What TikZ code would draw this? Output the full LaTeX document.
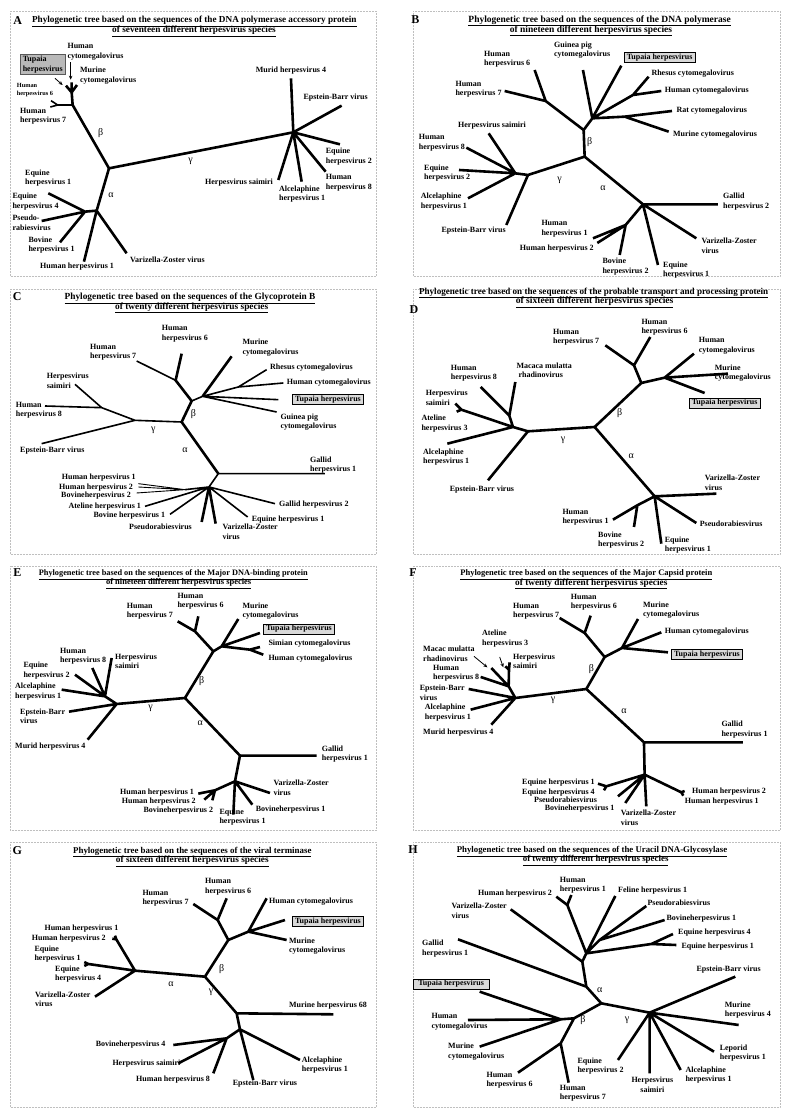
\documentclass[tikz,border=0pt]{standalone}
\usepackage{fontspec}
\setmainfont{Liberation Serif}
\usetikzlibrary{arrows.meta}
\tikzset{
  >={Stealth[length=4pt,width=3.5pt]},
  br/.style     ={line width=2.6pt},
  thinbr/.style ={line width=1.6pt},
  lbl/.style    ={font=\fontsize{8}{9.5}\selectfont\bfseries, inner sep=0pt, align=left, anchor=west},
  smlbl/.style  ={lbl, font=\fontsize{6.3}{7.8}\selectfont\bfseries},
  ttl/.style    ={font=\fontsize{#1}{10}\selectfont\bfseries, inner sep=0pt, text height=6.5pt, text depth=1.5pt},
  ttl/.default  =9.3,
  tag/.style    ={font=\fontsize{12}{12}\selectfont\bfseries, inner sep=0pt},
  grk/.style    ={font=\fontsize{10}{10}\selectfont, inner sep=0pt},
  tup/.style    ={lbl, draw, fill=gray!30, line width=0.6pt, inner xsep=2.5pt, inner ysep=1.5pt},
  panel/.style  ={draw=gray!50, densely dotted, line width=0.5pt},
  pointer/.style={->, line width=0.8pt}
}

\begin{document}
\begin{tikzpicture}[x=1pt, y=-1pt]
\useasboundingbox (0,0) rectangle (796,1120);
\fill[white] (0,0) rectangle (796,1120);
% frames
\draw[panel] (10,11) rectangle (376,276);
\draw[panel] (413,11) rectangle (780,276);
\draw[panel] (10,289) rectangle (376,554);
\draw[panel] (413,289) rectangle (780,554);
\draw[panel] (10,566) rectangle (376,830);
\draw[panel] (413,566) rectangle (780,830);
\draw[panel] (10,842) rectangle (376,1107);
\draw[panel] (413,842) rectangle (780,1107);

% ---------- A
\begin{scope}[shift={(5pt,-5pt)}, x=0.3333pt, y=-0.3333pt]
  \node[tag] (A-tag) at (38,46) {A};
  \node[ttl=9.2] (A-t1) at (568,46) {\underline{Phylogenetic tree based on the sequences of the DNA polymerase accessory protein}};
  \node[ttl=9.3] (A-t2) at (567,76) {\underline{of seventeen different herpesvirus species}};
  \coordinate (A-root) at (312,490); \coordinate (A-gam) at (865,382);
  \coordinate (A-bet) at (203,300);  \coordinate (A-alp) at (275,617);
  \coordinate (A-cmv) at (200,262);  \coordinate (A-h67) at (158,300);
  \coordinate (A-a2) at (240,620);
  \coordinate (A-hcmv) at (200,232); \coordinate (A-tup) at (183,242); \coordinate (A-mcmv) at (216,240);
  \coordinate (A-hhv6) at (138,287); \coordinate (A-hhv7) at (136,306);
  \coordinate (A-mur4) at (858,220); \coordinate (A-ebv) at (1010,302); \coordinate (A-eq2) at (1005,418);
  \coordinate (A-hhv8) at (962,500); \coordinate (A-alc) at (890,530); \coordinate (A-hs) at (820,525);
  \coordinate (A-eq) at (130,565);   \coordinate (A-prv) at (110,648); \coordinate (A-bov) at (165,712);
  \coordinate (A-hhv1) at (237,770); \coordinate (A-vzv) at (365,745);
  \draw[br] (A-alp) -- (A-root) -- (A-gam);
  \draw[br] (A-root) -- (A-bet) -- (A-cmv) -- (A-hcmv) (A-cmv) -- (A-tup) (A-cmv) -- (A-mcmv);
  \draw[thinbr] (A-bet) -- (A-h67) -- (A-hhv6) (A-h67) -- (A-hhv7);
  \draw[br] (A-gam) -- (A-mur4) (A-gam) -- (A-ebv) (A-gam) -- (A-eq2) (A-gam) -- (A-hhv8) (A-gam) -- (A-alc) (A-gam) -- (A-hs);
  \draw[br] (A-alp) -- (A-vzv) (A-alp) -- (A-hhv1) (A-alp) -- (A-a2) -- (A-eq) (A-a2) -- (A-prv) (A-a2) -- (A-bov);
  \node[tup, fill=gray!55, draw=gray!70!black] (A-tupL) at (45,178) {Tupaia\\herpesvirus};
  \node[lbl] (A-hcmvL) at (187,140) {Human\\cytomegalovirus};
  \node[lbl] (A-mcmvL) at (225,212) {Murine\\cytomegalovirus};
  \node[smlbl] (A-hhv6L) at (35,255) {Human\\herpesvirus 6};
  \node[lbl] (A-hhv7L) at (45,333) {Human\\herpesvirus 7};
  \coordinate (A-p1a) at (197,172); \coordinate (A-p1b) at (197,224);
  \coordinate (A-p2a) at (150,220); \coordinate (A-p2b) at (173,240);
  \draw[pointer] (A-p1a) -- (A-p1b);
  \draw[pointer] (A-p2a) -- (A-p2b);
  \node[lbl] (A-mur4L) at (752,198) {Murid herpesvirus 4};
  \node[lbl] (A-ebvL) at (895,278) {Epstein-Barr virus};
  \node[lbl] (A-eq2L) at (962,455) {Equine\\herpesvirus 2};
  \node[lbl] (A-hhv8L) at (962,533) {Human\\herpesvirus 8};
  \node[lbl] (A-alcL) at (822,567) {Alcelaphine\\herpesvirus 1};
  \node[lbl] (A-hsL) at (600,532) {Herpesvirus saimiri};
  \node[lbl] (A-eq1L) at (60,520) {Equine\\herpesvirus 1};
  \node[lbl] (A-eq4L) at (22,590) {Equine\\herpesvirus 4};
  \node[lbl] (A-prvL) at (22,653) {Pseudo-\\rabiesvirus};
  \node[lbl] (A-bovL) at (70,720) {Bovine\\herpesvirus 1};
  \node[lbl] (A-hhv1L) at (105,785) {Human herpesvirus 1};
  \node[lbl] (A-vzvL) at (375,765) {Varizella-Zoster virus};
  \node[grk] (A-betL) at (287,383) {β};
  \node[grk] (A-gamL) at (557,468) {γ};
  \node[grk] (A-alpL) at (318,570) {α};
\end{scope}

% ---------- B
\begin{scope}[shift={(398pt,-5pt)}, x=0.3333pt, y=-0.3333pt]
  \node[tag] (B-tag) at (52,45) {B};
  \node[ttl=9.5] (B-t1) at (605,44) {\underline{Phylogenetic tree based on the sequences of the DNA polymerase}};
  \node[ttl=9.5] (B-t2) at (579,74) {\underline{of nineteen different herpesvirus species}};
  \coordinate (B-root) at (560,455); \coordinate (B-b1) at (557,375);
  \coordinate (B-h67) at (443,288);  \coordinate (B-cmv) at (583,340);
  \coordinate (B-rhn) at (705,270);  \coordinate (B-ratn) at (680,335);
  \coordinate (B-gam) at (390,510);  \coordinate (B-g2) at (352,505);
  \coordinate (B-alp) at (735,598);  \coordinate (B-n1) at (683,660);
  \coordinate (B-hhv7) at (320,258); \coordinate (B-hhv6) at (410,195);
  \coordinate (B-gp) at (555,195);   \coordinate (B-tup) at (670,182);
  \coordinate (B-rh) at (752,215);   \coordinate (B-hcmv) at (790,258);
  \coordinate (B-rat) at (822,318);  \coordinate (B-mcmv) at (812,380);
  \coordinate (B-hs) at (272,385);   \coordinate (B-hhv8) at (205,428); \coordinate (B-eq2) at (183,495);
  \coordinate (B-alc) at (210,580);  \coordinate (B-ebv) at (325,660);
  \coordinate (B-gal) at (960,598);  \coordinate (B-hhv1) at (585,700); \coordinate (B-hhv2) at (598,714);
  \coordinate (B-bov2) at (665,750); \coordinate (B-eq1) at (780,780); \coordinate (B-vzv) at (895,700);
  \draw[br] (B-alp) -- (B-root) -- (B-b1) -- (B-h67) -- (B-hhv7) (B-h67) -- (B-hhv6);
  \draw[br] (B-b1) -- (B-cmv) -- (B-gp) (B-cmv) -- (B-tup) (B-cmv) -- (B-rhn) -- (B-rh) (B-rhn) -- (B-hcmv)
            (B-cmv) -- (B-ratn) -- (B-rat) (B-ratn) -- (B-mcmv);
  \draw[br] (B-root) -- (B-gam) -- (B-g2) -- (B-hs) (B-g2) -- (B-hhv8) (B-g2) -- (B-eq2) (B-g2) -- (B-alc) (B-gam) -- (B-ebv);
  \draw[br] (B-alp) -- (B-gal) (B-alp) -- (B-n1) -- (B-hhv1) (B-n1) -- (B-hhv2) (B-n1) -- (B-bov2)
            (B-alp) -- (B-eq1) (B-alp) -- (B-vzv);
  \node[lbl] (B-gpL) at (468,135) {Guinea pig\\cytomegalovirus};
  \node[tup] (B-tupL) at (678,158) {Tupaia herpesvirus};
  \node[lbl] (B-rhL) at (760,205) {Rhesus cytomegalovirus};
  \node[lbl] (B-hcmvL) at (800,258) {Human cytomegalovirus};
  \node[lbl] (B-ratL) at (835,318) {Rat cytomegalovirus};
  \node[lbl] (B-mcmvL) at (825,390) {Murine cytomegalovirus};
  \node[lbl] (B-hhv6L) at (258,163) {Human\\herpesvirus 6};
  \node[lbl] (B-hhv7L) at (172,253) {Human\\herpesvirus 7};
  \node[lbl] (B-hsL) at (180,362) {Herpesvirus saimiri};
  \node[lbl] (B-hhv8L) at (62,413) {Human\\herpesvirus 8};
  \node[lbl] (B-eq2L) at (78,505) {Equine\\herpesvirus 2};
  \node[lbl] (B-alcL) at (68,590) {Alcelaphine\\herpesvirus 1};
  \node[lbl] (B-ebvL) at (130,678) {Epstein-Barr virus};
  \node[lbl] (B-galL) at (975,590) {Gallid\\herpesvirus 2};
  \node[lbl] (B-hhv1L) at (430,672) {Human\\herpesvirus 1};
  \node[lbl] (B-hhv2L) at (365,730) {Human herpesvirus 2};
  \node[lbl] (B-bov2L) at (613,785) {Bovine\\herpesvirus 2};
  \node[lbl] (B-eq1L) at (795,795) {Equine\\herpesvirus 1};
  \node[lbl] (B-vzvL) at (910,722) {Varizella-Zoster\\virus};
  \node[grk] (B-betL) at (575,410) {β};
  \node[grk] (B-gamL) at (485,525) {γ};
  \node[grk] (B-alpL) at (615,550) {α};
\end{scope}

% ---------- C
\begin{scope}[shift={(5pt,-277pt)}, x=0.3333pt, y=-0.3333pt]
  \node[tag] (C-tag) at (37,60) {C};
  \node[ttl=9.35] (C-t1) at (555,60) {\underline{Phylogenetic tree based on the sequences of the Glycoprotein B}};
  \node[ttl=9.35] (C-t2) at (560,89) {\underline{of twenty different herpesvirus species}};
  \coordinate (C-root) at (530,435); \coordinate (C-bet) at (560,372);
  \coordinate (C-h67) at (512,310);  \coordinate (C-cmv) at (593,358); \coordinate (C-rhn) at (700,330);
  \coordinate (C-gam) at (390,430);  \coordinate (C-g2) at (290,392);
  \coordinate (C-alp) at (640,590);  \coordinate (C-n1) at (612,630); \coordinate (C-n2) at (540,638);
  \coordinate (C-hhv7) at (395,252); \coordinate (C-hhv6) at (530,230);
  \coordinate (C-mcmv) at (680,238); \coordinate (C-rh) at (785,278); \coordinate (C-hcmv) at (835,318);
  \coordinate (C-tup) at (820,368);  \coordinate (C-gp) at (815,405);
  \coordinate (C-hs) at (210,322);   \coordinate (C-hhv8) at (120,387); \coordinate (C-ebv) at (110,500);
  \coordinate (C-gal1) at (960,590); \coordinate (C-hhv1) at (400,620); \coordinate (C-hhv2) at (400,630);
  \coordinate (C-bov2) at (395,648); \coordinate (C-atel) at (420,688); \coordinate (C-bov1) at (495,712);
  \coordinate (C-prv) at (590,735);  \coordinate (C-vzv) at (632,740); \coordinate (C-eq1) at (728,720);
  \coordinate (C-gal2) at (810,680);
  \draw[br] (C-alp) -- (C-root) -- (C-bet) -- (C-h67) -- (C-hhv6) (C-cmv) -- (C-mcmv);
  \draw[thinbr] (C-h67) -- (C-hhv7);
  \draw[thinbr] (C-root) -- (C-gam) -- (C-g2) -- (C-hs) (C-g2) -- (C-hhv8) (C-gam) -- (C-ebv);
  \draw[thinbr] (C-bet) -- (C-cmv) -- (C-rhn) -- (C-rh) (C-rhn) -- (C-hcmv) (C-cmv) -- (C-tup) (C-cmv) -- (C-gp);
  \draw[thinbr] (C-alp) -- (C-gal1) (C-alp) -- (C-n1) -- (C-n2) (C-n1) -- (C-atel) (C-n1) -- (C-bov1)
                (C-n1) -- (C-eq1) (C-n1) -- (C-gal2);
  \draw[line width=0.9pt] (C-n2) -- (C-hhv1) (C-n2) -- (C-hhv2) (C-n2) -- (C-bov2);
  \draw[br] (C-n1) -- (C-prv) (C-n1) -- (C-vzv);
  \node[lbl] (C-hhv7L) at (255,225) {Human\\herpesvirus 7};
  \node[lbl] (C-hhv6L) at (470,170) {Human\\herpesvirus 6};
  \node[lbl] (C-mcmvL) at (712,212) {Murine\\cytomegalovirus};
  \node[lbl] (C-rhL) at (795,272) {Rhesus cytomegalovirus};
  \node[lbl] (C-hcmvL) at (845,318) {Human cytomegalovirus};
  \node[tup] (C-tupL) at (862,368) {Tupaia herpesvirus};
  \node[lbl] (C-gpL) at (826,435) {Guinea pig\\cytomegalovirus};
  \node[lbl] (C-hsL) at (125,312) {Herpesvirus\\saimiri};
  \node[lbl] (C-hhv8L) at (32,400) {Human\\herpesvirus 8};
  \node[lbl] (C-ebvL) at (45,522) {Epstein-Barr virus};
  \node[lbl] (C-gal1L) at (915,565) {Gallid\\herpesvirus 1};
  \node[lbl] (C-hhv1L) at (170,602) {Human herpesvirus 1};
  \node[lbl] (C-hhv2L) at (162,632) {Human herpesvirus 2};
  \node[lbl] (C-bov2L) at (168,655) {Bovineherpesvirus 2};
  \node[lbl] (C-atelL) at (190,690) {Ateline herpesvirus 1};
  \node[lbl] (C-bov1L) at (265,717) {Bovine herpesvirus 1};
  \node[lbl] (C-prvL) at (372,748) {Pseudorabiesvirus};
  \node[lbl] (C-vzvL) at (652,765) {Varizella-Zoster\\virus};
  \node[lbl] (C-eq1L) at (740,727) {Equine herpesvirus 1};
  \node[lbl] (C-gal2L) at (822,683) {Gallid herpesvirus 2};
  \node[grk] (C-betL) at (565,410) {β};
  \node[grk] (C-gamL) at (445,460) {γ};
  \node[grk] (C-alpL) at (540,520) {α};
\end{scope}

% ---------- D
\begin{scope}[shift={(398pt,-277pt)}, x=0.3333pt, y=-0.3333pt]
  \node[tag] (D-tag) at (48,97) {D};
  \node[ttl=9.1] (D-t1) at (587,44) {\underline{Phylogenetic tree based on the sequences of the probable transport and processing protein}};
  \node[ttl=9.6] (D-t2) at (590,72) {\underline{of sixteen different herpesvirus species}};
  \coordinate (D-root) at (590,450); \coordinate (D-bet) at (730,318);
  \coordinate (D-h67) at (708,265);  \coordinate (D-cmv) at (800,302);
  \coordinate (D-gam) at (390,463);  \coordinate (D-g2) at (345,450);
  \coordinate (D-n3) at (334,416);   \coordinate (D-n4) at (190,398);
  \coordinate (D-alp) at (770,658);  \coordinate (D-n1) at (718,685);
  \coordinate (D-hhv7) at (622,205); \coordinate (D-hhv6) at (757,180);
  \coordinate (D-hcmv) at (888,230); \coordinate (D-mcmv) at (990,290); \coordinate (D-tup) at (920,348);
  \coordinate (D-hhv8) at (248,330); \coordinate (D-mac) at (352,315);
  \coordinate (D-hs) at (172,380);   \coordinate (D-atel) at (176,404);
  \coordinate (D-alc) at (148,500);  \coordinate (D-ebv) at (270,610);
  \coordinate (D-vzv) at (955,650);  \coordinate (D-hhv1) at (645,728); \coordinate (D-bov2) at (708,750);
  \coordinate (D-eq1) at (790,800);  \coordinate (D-prv) at (895,738);
  \draw[br] (D-alp) -- (D-root) -- (D-bet) -- (D-h67) -- (D-hhv7) (D-h67) -- (D-hhv6);
  \draw[br] (D-bet) -- (D-cmv) -- (D-hcmv) (D-cmv) -- (D-mcmv) (D-cmv) -- (D-tup);
  \draw[br] (D-root) -- (D-gam) -- (D-g2) -- (D-n3) -- (D-hhv8) (D-n3) -- (D-mac)
            (D-g2) -- (D-n4) -- (D-hs) (D-n4) -- (D-atel) (D-g2) -- (D-alc) (D-gam) -- (D-ebv);
  \draw[br] (D-alp) -- (D-vzv) (D-alp) -- (D-n1) -- (D-hhv1) (D-n1) -- (D-bov2) (D-alp) -- (D-eq1) (D-alp) -- (D-prv);
  \node[lbl] (D-hhv7L) at (465,180) {Human\\herpesvirus 7};
  \node[lbl] (D-hhv6L) at (730,150) {Human\\herpesvirus 6};
  \node[lbl] (D-hcmvL) at (902,207) {Human\\cytomegalovirus};
  \node[lbl] (D-mcmvL) at (950,288) {Murine\\cytomegalovirus};
  \node[tup] (D-tupL) at (873,378) {Tupaia herpesvirus};
  \node[lbl] (D-hhv8L) at (158,288) {Human\\herpesvirus 8};
  \node[lbl] (D-macL) at (355,280) {Macaca mulatta\\\ rhadinovirus};
  \node[lbl] (D-hsL) at (83,362) {Herpesvirus\\saimiri};
  \node[lbl] (D-atelL) at (70,440) {Ateline\\herpesvirus 3};
  \node[lbl] (D-alcL) at (75,540) {Alcelaphine\\herpesvirus 1};
  \node[lbl] (D-ebvL) at (155,637) {Epstein-Barr virus};
  \node[lbl] (D-vzvL) at (920,618) {Varizella-Zoster\\virus};
  \node[lbl] (D-hhv1L) at (493,720) {Human\\herpesvirus 1};
  \node[lbl] (D-bov2L) at (600,790) {Bovine\\herpesvirus 2};
  \node[lbl] (D-eq1L) at (800,805) {Equine\\herpesvirus 1};
  \node[lbl] (D-prvL) at (905,740) {Pseudorabiesvirus};
  \node[grk] (D-betL) at (665,408) {β};
  \node[grk] (D-gamL) at (495,490) {γ};
  \node[grk] (D-alpL) at (700,537) {α};
\end{scope}

% ---------- E
\begin{scope}[shift={(5pt,-553pt)}, x=0.3333pt, y=-0.3333pt]
  \node[tag] (E-tag) at (37,60) {E};
  \node[ttl=8.3] (E-t1) at (505,60) {\underline{Phylogenetic tree based on the sequences of the Major DNA-binding protein}};
  \node[ttl=8.5] (E-t2) at (521,88) {\underline{of nineteen different herpesvirus species}};
  \coordinate (E-root) at (540,435); \coordinate (E-bet) at (625,295);
  \coordinate (E-h67) at (570,235);  \coordinate (E-cmv) at (650,280); \coordinate (E-shn) at (735,290);
  \coordinate (E-gam) at (335,453);  \coordinate (E-g2) at (300,430);
  \coordinate (E-alp) at (705,608);  \coordinate (E-n1) at (690,685); \coordinate (E-n2) at (630,712);
  \coordinate (E-hhv7) at (518,205); \coordinate (E-hhv6) at (580,190);
  \coordinate (E-mcmv) at (700,198); \coordinate (E-tup) at (765,240);
  \coordinate (E-sim) at (765,282);  \coordinate (E-hcmv) at (775,305);
  \coordinate (E-eq2) at (210,365);  \coordinate (E-hhv8) at (262,345); \coordinate (E-hs) at (320,315);
  \coordinate (E-alc) at (170,410);  \coordinate (E-ebv) at (192,476); \coordinate (E-mur4) at (248,560);
  \coordinate (E-gal) at (935,608);  \coordinate (E-hhv1) at (580,722); \coordinate (E-hhv2) at (598,740);
  \coordinate (E-bov2) at (622,742); \coordinate (E-eq1) at (685,785); \coordinate (E-bov1) at (742,755);
  \coordinate (E-vzv) at (795,720);
  \draw[br] (E-alp) -- (E-root) -- (E-bet) -- (E-h67) -- (E-hhv7) (E-h67) -- (E-hhv6);
  \draw[br] (E-bet) -- (E-cmv) -- (E-mcmv) (E-cmv) -- (E-tup) (E-cmv) -- (E-shn) -- (E-sim) (E-shn) -- (E-hcmv);
  \draw[br] (E-root) -- (E-gam) -- (E-g2) -- (E-eq2) (E-g2) -- (E-hhv8) (E-g2) -- (E-hs) (E-g2) -- (E-alc)
            (E-gam) -- (E-ebv) (E-gam) -- (E-mur4);
  \draw[br] (E-alp) -- (E-gal) (E-alp) -- (E-n1) -- (E-n2) -- (E-hhv1) (E-n2) -- (E-hhv2) (E-n2) -- (E-bov2)
            (E-n1) -- (E-eq1) (E-n1) -- (E-bov1) (E-n1) -- (E-vzv);
  \node[lbl] (E-hhv7L) at (365,175) {Human\\herpesvirus 7};
  \node[lbl] (E-hhv6L) at (517,145) {Human\\herpesvirus 6};
  \node[lbl] (E-mcmvL) at (712,175) {Murine\\cytomegalovirus};
  \node[tup] (E-tupL) at (775,228) {Tupaia herpesvirus};
  \node[lbl] (E-simL) at (790,273) {Simian cytomegalovirus};
  \node[lbl] (E-hcmvL) at (790,318) {Human cytomegalovirus};
  \node[lbl] (E-hhv8L) at (165,310) {Human\\herpesvirus 8};
  \node[lbl] (E-hsL) at (330,325) {Herpesvirus\\saimiri};
  \node[lbl] (E-eq2L) at (55,353) {Equine\\herpesvirus 2};
  \node[lbl] (E-alcL) at (30,415) {Alcelaphine\\herpesvirus 1};
  \node[lbl] (E-ebvL) at (45,490) {Epstein-Barr\\virus};
  \node[lbl] (E-mur4L) at (30,580) {Murid herpesvirus 4};
  \node[lbl] (E-galL) at (950,603) {Gallid\\herpesvirus 1};
  \node[lbl] (E-vzvL) at (805,705) {Varizella-Zoster\\virus};
  \node[lbl] (E-hhv1L) at (345,718) {Human herpesvirus 1};
  \node[lbl] (E-hhv2L) at (350,747) {Human herpesvirus 2};
  \node[lbl] (E-bov2L) at (415,772) {Bovineherpesvirus 2};
  \node[lbl] (E-eq1L) at (643,793) {Equine\\herpesvirus 1};
  \node[lbl] (E-bov1L) at (752,770) {Bovineherpesvirus 1};
  \node[grk] (E-betL) at (590,385) {β};
  \node[grk] (E-gamL) at (437,465) {γ};
  \node[grk] (E-alpL) at (586,510) {α};
\end{scope}

% ---------- F
\begin{scope}[shift={(398pt,-553pt)}, x=0.3333pt, y=-0.3333pt]
  \node[tag] (F-tag) at (45,60) {F};
  \node[ttl=8.5] (F-t1) at (565,60) {\underline{Phylogenetic tree based on the sequences of the Major Capsid protein}};
  \node[ttl=9.3] (F-t2) at (580,89) {\underline{of twenty different herpesvirus species}};
  \coordinate (F-root) at (565,408); \coordinate (F-bet) at (620,312);
  \coordinate (F-h67) at (560,240);  \coordinate (F-cmv) at (672,285);
  \coordinate (F-gam) at (352,435);  \coordinate (F-g2) at (332,400); \coordinate (F-n3) at (333,350);
  \coordinate (F-alp) at (738,568);  \coordinate (F-n1) at (740,665);
  \coordinate (F-n2) at (625,700);   \coordinate (F-h12) at (850,718);
  \coordinate (F-hhv7) at (485,195); \coordinate (F-hhv6) at (578,188);
  \coordinate (F-mcmv) at (720,198); \coordinate (F-hcmv) at (790,238); \coordinate (F-tup) at (810,298);
  \coordinate (F-mac) at (280,345);  \coordinate (F-hhv8) at (248,372);
  \coordinate (F-hs) at (335,328);   \coordinate (F-atel) at (322,340);
  \coordinate (F-ebv) at (212,408);  \coordinate (F-alc) at (218,470); \coordinate (F-mur4) at (280,515);
  \coordinate (F-gal) at (1035,568); \coordinate (F-eq1) at (600,692); \coordinate (F-eq4) at (618,712);
  \coordinate (F-prv) at (660,730);  \coordinate (F-bov1) at (682,750); \coordinate (F-vzv) at (745,760);
  \coordinate (F-hhv2) at (860,714); \coordinate (F-hhv1) at (856,728);
  \draw[br] (F-alp) -- (F-root) -- (F-bet) -- (F-h67) -- (F-hhv7) (F-h67) -- (F-hhv6);
  \draw[br] (F-bet) -- (F-cmv) -- (F-mcmv) (F-cmv) -- (F-hcmv) (F-cmv) -- (F-tup);
  \draw[br] (F-root) -- (F-gam) -- (F-g2) -- (F-mac) (F-g2) -- (F-hhv8) (F-g2) -- (F-n3) -- (F-hs) (F-n3) -- (F-atel)
            (F-gam) -- (F-ebv) (F-gam) -- (F-alc) (F-gam) -- (F-mur4);
  \draw[br] (F-alp) -- (F-gal) (F-alp) -- (F-n1) -- (F-n2) -- (F-eq1) (F-n2) -- (F-eq4) (F-n1) -- (F-prv)
            (F-n1) -- (F-bov1) (F-n1) -- (F-vzv) (F-n1) -- (F-h12) -- (F-hhv2) (F-h12) -- (F-hhv1);
  \coordinate (F-p1a) at (228,310); \coordinate (F-p1b) at (268,343);
  \coordinate (F-p2a) at (305,312); \coordinate (F-p2b) at (316,343);
  \draw[pointer] (F-p1a) -- (F-p1b);
  \draw[pointer] (F-p2a) -- (F-p2b);
  \node[lbl] (F-hhv7L) at (345,175) {Human\\herpesvirus 7};
  \node[lbl] (F-hhv6L) at (518,148) {Human\\herpesvirus 6};
  \node[lbl] (F-mcmvL) at (735,172) {Murine\\cytomegalovirus};
  \node[lbl] (F-hcmvL) at (800,235) {Human cytomegalovirus};
  \node[tup] (F-tupL) at (820,305) {Tupaia herpesvirus};
  \node[lbl] (F-atelL) at (252,257) {Ateline\\herpesvirus 3};
  \node[lbl] (F-macL) at (75,303) {Macac mulatta\\rhadinovirus};
  \node[lbl] (F-hsL) at (345,325) {Herpesvirus\\saimiri};
  \node[lbl] (F-hhv8L) at (105,360) {Human\\herpesvirus 8};
  \node[lbl] (F-ebvL) at (65,420) {Epstein-Barr\\virus};
  \node[lbl] (F-alcL) at (80,478) {Alcelaphine\\herpesvirus 1};
  \node[lbl] (F-mur4L) at (75,540) {Murid herpesvirus 4};
  \node[lbl] (F-galL) at (970,530) {Gallid\\herpesvirus 1};
  \node[lbl] (F-eq1L) at (372,688) {Equine herpesvirus 1};
  \node[lbl] (F-eq4L) at (372,718) {Equine herpesvirus 4};
  \node[lbl] (F-prvL) at (408,740) {Pseudorabiesvirus};
  \node[lbl] (F-bov1L) at (440,768) {Bovineherpesvirus 1};
  \node[lbl] (F-vzvL) at (668,795) {Varizella-Zoster\\virus};
  \node[lbl] (F-hhv2L) at (882,715) {Human herpesvirus 2};
  \node[lbl] (F-hhv1L) at (860,745) {Human herpesvirus 1};
  \node[grk] (F-betL) at (580,348) {β};
  \node[grk] (F-gamL) at (465,443) {γ};
  \node[grk] (F-alpL) at (678,475) {α};
\end{scope}

% ---------- G
\begin{scope}[shift={(5pt,-830pt)}, x=0.3333pt, y=-0.3333pt]
  \node[tag] (G-tag) at (37,62) {G};
  \node[ttl=8.9] (G-t1) at (562,62) {\underline{Phylogenetic tree based on the sequences of the viral terminase}};
  \node[ttl=9.3] (G-t2) at (562,91) {\underline{of sixteen different herpesvirus species}};
  \coordinate (G-root) at (600,440); \coordinate (G-bet) at (670,330);
  \coordinate (G-h67) at (638,270);  \coordinate (G-cmv) at (730,305);
  \coordinate (G-alp) at (390,422);  \coordinate (G-h12) at (334,328); \coordinate (G-eqn) at (250,402);
  \coordinate (G-gam) at (695,550);  \coordinate (G-n1) at (705,598); \coordinate (G-n2) at (665,625);
  \coordinate (G-hhv7) at (565,222); \coordinate (G-hhv6) at (665,205);
  \coordinate (G-hcmv) at (785,205); \coordinate (G-tup) at (840,270); \coordinate (G-mcmv) at (845,330);
  \coordinate (G-hhv1) at (330,317); \coordinate (G-hhv2) at (322,326);
  \coordinate (G-eq1) at (238,396);  \coordinate (G-eq4) at (238,408); \coordinate (G-vzv) at (270,500);
  \coordinate (G-mhv) at (985,553);  \coordinate (G-bov4) at (505,645); \coordinate (G-hs) at (520,700);
  \coordinate (G-hhv8) at (625,730); \coordinate (G-ebv) at (745,750); \coordinate (G-alc) at (885,690);
  \draw[br] (G-alp) -- (G-root) -- (G-bet) -- (G-h67) -- (G-hhv7) (G-h67) -- (G-hhv6);
  \draw[br] (G-bet) -- (G-cmv) -- (G-hcmv) (G-cmv) -- (G-tup) (G-cmv) -- (G-mcmv);
  \draw[br] (G-alp) -- (G-h12) -- (G-hhv1) (G-h12) -- (G-hhv2) (G-alp) -- (G-eqn) -- (G-eq1) (G-eqn) -- (G-eq4) (G-alp) -- (G-vzv);
  \draw[br] (G-root) -- (G-gam) -- (G-mhv) (G-gam) -- (G-n1) -- (G-n2) -- (G-bov4) (G-n2) -- (G-hs) (G-n2) -- (G-hhv8)
            (G-n1) -- (G-ebv) (G-n1) -- (G-alc);
  \node[lbl] (G-hhv7L) at (412,205) {Human\\herpesvirus 7};
  \node[lbl] (G-hhv6L) at (600,170) {Human\\herpesvirus 6};
  \node[lbl] (G-hcmvL) at (792,215) {Human cytomegalovirus};
  \node[tup] (G-tupL) at (862,275) {Tupaia herpesvirus};
  \node[lbl] (G-mcmvL) at (852,348) {Murine\\cytomegalovirus};
  \node[lbl] (G-hhv1L) at (118,295) {Human herpesvirus 1};
  \node[lbl] (G-hhv2L) at (80,325) {Human herpesvirus 2};
  \node[lbl] (G-eq1L) at (88,372) {Equine\\herpesvirus 1};
  \node[lbl] (G-eq4L) at (150,432) {Equine\\herpesvirus 4};
  \node[lbl] (G-vzvL) at (90,508) {Varizella-Zoster\\virus};
  \node[lbl] (G-mhvL) at (852,528) {Murine herpesvirus 68};
  \node[lbl] (G-bov4L) at (272,643) {Bovineherpesvirus 4};
  \node[lbl] (G-hsL) at (322,702) {Herpesvirus saimiri};
  \node[lbl] (G-hhv8L) at (393,750) {Human herpesvirus 8};
  \node[lbl] (G-ebvL) at (683,762) {Epstein-Barr virus};
  \node[lbl] (G-alcL) at (890,705) {Alcelaphine\\herpesvirus 1};
  \node[grk] (G-betL) at (650,418) {β};
  \node[grk] (G-alpL) at (498,463) {α};
  \node[grk] (G-gamL) at (618,488) {γ};
\end{scope}

% ---------- H
\begin{scope}[shift={(398pt,-830pt)}, x=0.3333pt, y=-0.3333pt]
  \node[tag] (H-tag) at (45,60) {H};
  \node[ttl=8.8] (H-t1) at (582,60) {\underline{Phylogenetic tree based on the sequences of the Uracil DNA-Glycosylase}};
  \node[ttl=8.9] (H-t2) at (593,88) {\underline{of twenty different herpesvirus species}};
  \coordinate (H-root) at (610,520); \coordinate (H-a1) at (565,470);
  \coordinate (H-a2) at (553,395);   \coordinate (H-a3) at (565,370);
  \coordinate (H-h12) at (508,225);  \coordinate (H-n4) at (605,330); \coordinate (H-n5) at (760,342);
  \coordinate (H-bet) at (528,565);  \coordinate (H-n6) at (488,568); \coordinate (H-n7) at (488,640);
  \coordinate (H-gam) at (755,548);
  \coordinate (H-gal) at (180,328);  \coordinate (H-vzv) at (338,238);
  \coordinate (H-hhv2) at (475,200); \coordinate (H-hhv1) at (520,195); \coordinate (H-fel) at (652,198);
  \coordinate (H-prv) at (745,228);  \coordinate (H-bov1) at (800,270);
  \coordinate (H-eq4) at (825,312);  \coordinate (H-eq1) at (835,345);
  \coordinate (H-tup) at (245,485);  \coordinate (H-hcmv) at (210,570); \coordinate (H-mcmv) at (245,650);
  \coordinate (H-hhv6) at (360,728); \coordinate (H-hhv7) at (512,758);
  \coordinate (H-ebv) at (1012,440); \coordinate (H-mur4) at (1022,585); \coordinate (H-lep) at (948,665);
  \coordinate (H-alc) at (848,720);  \coordinate (H-hs) at (755,730); \coordinate (H-eq2) at (660,690);
  \draw[br] (H-gal) -- (H-a1) -- (H-root) -- (H-gam);
  \draw[br] (H-a1) -- (H-a2) -- (H-vzv) (H-a2) -- (H-a3) -- (H-h12) -- (H-hhv2) (H-h12) -- (H-hhv1)
            (H-a3) -- (H-fel) (H-a3) -- (H-n4) -- (H-prv) (H-n4) -- (H-bov1) (H-a3) -- (H-n5) -- (H-eq4) (H-n5) -- (H-eq1);
  \draw[br] (H-root) -- (H-bet) -- (H-n6) -- (H-tup) (H-n6) -- (H-hcmv) (H-n6) -- (H-mcmv)
            (H-bet) -- (H-n7) -- (H-hhv6) (H-n7) -- (H-hhv7);
  \draw[br] (H-gam) -- (H-ebv) (H-gam) -- (H-mur4) (H-gam) -- (H-lep) (H-gam) -- (H-alc) (H-gam) -- (H-hs) (H-gam) -- (H-eq2);
  \node[lbl] (H-hhv1L) at (485,165) {Human\\herpesvirus 1};
  \node[lbl] (H-hhv2L) at (240,190) {Human herpesvirus 2};
  \node[lbl] (H-felL) at (660,183) {Feline herpesvirus 1};
  \node[lbl] (H-prvL) at (748,218) {Pseudorabiesvirus};
  \node[lbl] (H-bov1L) at (805,265) {Bovineherpesvirus 1};
  \node[lbl] (H-eq4L) at (840,308) {Equine herpesvirus 4};
  \node[lbl] (H-eq1L) at (850,350) {Equine herpesvirus 1};
  \node[lbl] (H-vzvL) at (160,242) {Varizella-Zoster\\virus};
  \node[lbl] (H-galL) at (72,355) {Gallid\\herpesvirus 1};
  \node[tup, inner xsep=5pt] (H-tupL) at (45,462) {Tupaia herpesvirus};
  \node[lbl] (H-hcmvL) at (100,575) {Human\\cytomegalovirus};
  \node[lbl] (H-mcmvL) at (150,665) {Murine\\cytomegalovirus};
  \node[lbl] (H-hhv6L) at (265,750) {Human\\herpesvirus 6};
  \node[lbl] (H-hhv7L) at (485,790) {Human\\herpesvirus 7};
  \node[lbl] (H-ebvL) at (895,420) {Epstein-Barr virus};
  \node[lbl] (H-mur4L) at (980,540) {Murine\\herpesvirus 4};
  \node[lbl] (H-lepL) at (965,670) {Leporid\\herpesvirus 1};
  \node[lbl] (H-alcL) at (862,735) {Alcelaphine\\herpesvirus 1};
  \node[lbl, align=center] (H-hsL) at (700,765) {Herpesvirus\\saimiri};
  \node[lbl] (H-eq2L) at (538,708) {Equine\\herpesvirus 2};
  \node[grk] (H-alpL) at (605,480) {α};
  \node[grk] (H-betL) at (555,570) {β};
  \node[grk] (H-gamL) at (687,570) {γ};
\end{scope}
\end{tikzpicture}
\end{document}
